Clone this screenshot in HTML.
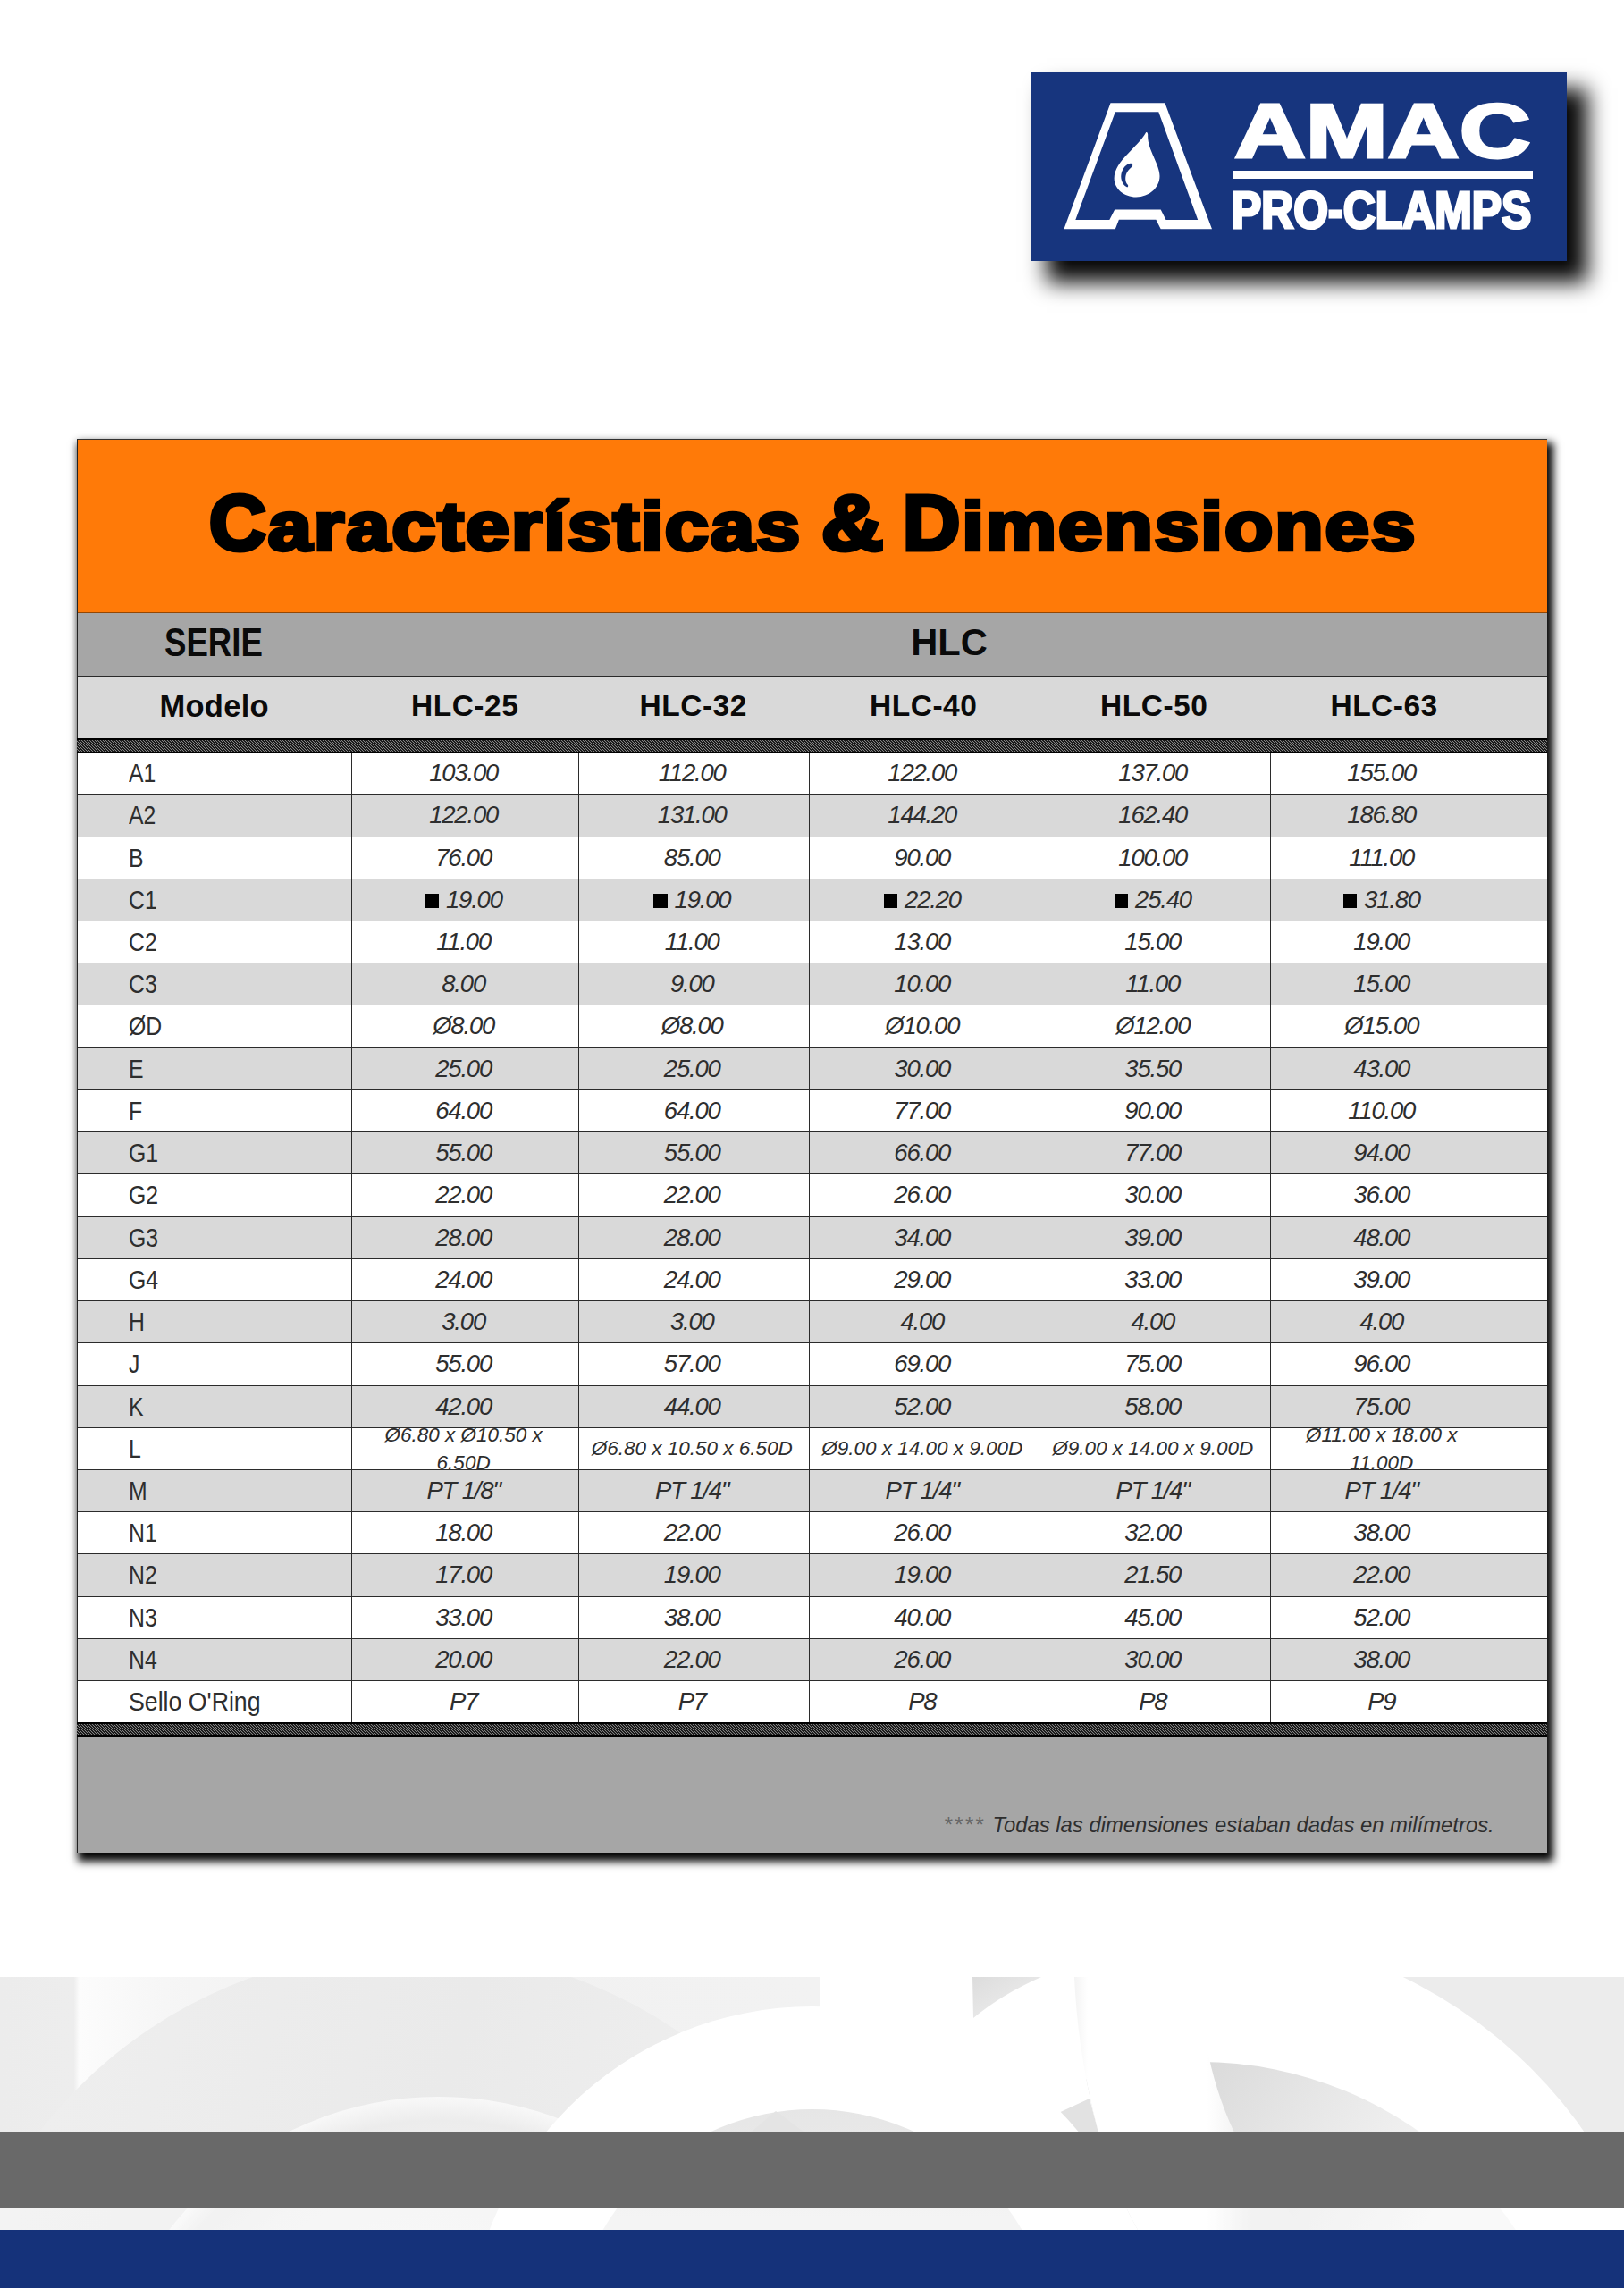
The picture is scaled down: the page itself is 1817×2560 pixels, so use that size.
<!DOCTYPE html>
<html lang="es">
<head>
<meta charset="utf-8">
<title>AMAC Pro-Clamps - Características &amp; Dimensiones HLC</title>
<style>
html,body{margin:0;padding:0;}
body{width:1817px;height:2560px;position:relative;background:#fff;overflow:hidden;font-family:"Liberation Sans",sans-serif;color:#000;}
.abs{position:absolute;}
#logo{position:absolute;left:1153.5px;top:81px;width:599px;height:211px;background:#17357e;box-shadow:20px 21px 23px 3px rgba(0,0,0,.97);}
#logo svg{position:absolute;left:0;top:0;}
#amac{position:absolute;left:227.3px;top:21.8px;font-weight:bold;font-size:86px;line-height:86px;color:#fff;white-space:nowrap;transform-origin:0 0;transform:scaleX(1.285);-webkit-text-stroke:3px #fff;}
#bar{position:absolute;left:226px;top:109.5px;width:335.5px;height:9.2px;background:#fff;}
#pro{position:absolute;left:224.3px;top:124.8px;font-weight:bold;font-size:58px;line-height:58px;color:#fff;white-space:nowrap;transform-origin:0 0;transform:scaleX(.86);-webkit-text-stroke:3.2px #fff;}
#tbl{position:absolute;left:86px;top:491px;width:1645px;height:1581.6px;background:#a6a6a6;box-shadow:4px 7px 9px 3px rgba(0,0,0,.97);}
#tbl .edge{position:absolute;left:0;top:0;right:0;bottom:0;border-left:1.3px solid #222;border-top:1.3px solid #333;pointer-events:none;}
#orange{position:absolute;left:0;top:0;width:100%;height:194.5px;background:#ff7a08;box-sizing:border-box;border-bottom:1px solid rgba(60,30,0,.55);}
.tw{position:absolute;top:50.3px;font-weight:bold;font-size:88px;line-height:88px;white-space:nowrap;color:#000;-webkit-text-stroke:5px #000;transform-origin:0 0;letter-spacing:2px;}
.tw span{display:inline-block;transform:scaleY(.868);transform-origin:0 84.65%;}
#serie{position:absolute;left:0;top:194.5px;width:100%;height:71px;background:#a6a6a6;border-bottom:1.3px solid #2a2a2a;box-sizing:border-box;}
#modelo{position:absolute;left:0;top:265.5px;width:100%;height:70px;background:#d9d9d9;}
.hd{position:absolute;font-weight:bold;white-space:nowrap;text-align:center;color:#0a0a0a;}
.band{position:absolute;left:0;width:1645px;height:17px;z-index:3;display:block;}
.row{position:absolute;left:0;width:100%;height:47.23px;box-sizing:border-box;border-bottom:1.2px solid #2b2b2b;overflow:hidden;}
.row.g{background:#d9d9d9;}
.row.w{background:#fff;}
.lab{position:absolute;left:58px;top:0;font-size:29.5px;line-height:45.4px;transform-origin:0 50%;transform:scaleX(.84);color:#2e2e2e;white-space:nowrap;}
.c{position:absolute;top:0;height:100%;box-sizing:border-box;border-left:1.2px solid #2b2b2b;text-align:center;font-style:italic;font-size:27.5px;line-height:45px;color:#2e2e2e;white-space:nowrap;padding-right:4px;letter-spacing:-1.2px;}
.c.s{font-size:22.5px;line-height:46px;letter-spacing:0;}
.c.wr{font-size:22.5px;line-height:30.4px;white-space:normal;letter-spacing:0;}
.c.wr span{display:block;position:relative;top:-6.3px;}
.sq{display:inline-block;width:15.5px;height:15.5px;background:#000;margin-right:8px;vertical-align:0px;}
#foot{position:absolute;left:0;top:1451.8px;width:100%;height:129.8px;background:#a6a6a6;}
#note{position:absolute;right:59.3px;top:1536px;font-style:italic;font-size:23.85px;line-height:30px;color:#2e2e2e;white-space:nowrap;}
#note i{font-style:italic;color:#666;margin-right:8.5px;letter-spacing:2.3px;}
#deco{position:absolute;left:0;top:2212px;}
#gband{position:absolute;left:0;top:2385.6px;width:1817px;height:84px;background:#696969;}
#nband{position:absolute;left:0;top:2494.6px;width:1817px;height:66px;background:#15327a;}
</style>
</head>
<body>
<div id="logo">
<svg width="599" height="211" viewBox="1153.5 81 599 211">
<path fill="#fff" fill-rule="evenodd" d="M1242 115.2 L1302.9 115.2 L1355.5 256.3 L1298.2 256.3 L1292.9 245.7 L1251.4 245.7 L1247.3 256.3 L1189.9 256.3 Z M1247.3 125.2 L1295.8 125.2 L1339.7 245.9 L1304 245.9 L1298.2 234.6 L1246.7 234.6 L1240.8 246.1 L1202.8 246.1 Z"/>
<path fill="#fff" d="M1281.8 148 C1278.3 155 1268.9 163.8 1261.9 171.4 C1252.5 180.7 1246.1 190.1 1246.1 199.5 C1246.1 211.2 1257.2 220.5 1270.7 220.5 C1285.3 220.5 1297 210 1297 197.1 C1297 184.2 1283 166.7 1283.7 151.5 C1283.8 149.1 1283 147.4 1281.8 148 Z"/>
<path fill="#17357e" d="M1261.9 183.3 C1256 186.6 1253.1 193.6 1253.9 199.5 C1254.6 204.1 1257.2 208.2 1260.7 209.4 C1261.9 208.8 1261.9 207.6 1261.3 206.7 C1258.6 204.1 1258.2 199.5 1259.3 195.4 C1260.5 191.3 1263.7 188.9 1266 186.6 C1267.8 184.5 1266 181.3 1261.9 183.3 Z"/>
</svg>
<div id="amac">AMAC</div>
<div id="bar"></div>
<div id="pro">PRO-CLAMPS</div>
</div>
<div id="tbl">
<svg width="0" height="0" style="position:absolute"><defs><pattern id="hatch" width="3" height="3" patternUnits="userSpaceOnUse"><rect width="3" height="3" fill="#1b1b1b"/><rect x="0" y="0" width="1" height="1" fill="#848484"/><rect x="1" y="1" width="1" height="1" fill="#848484"/><rect x="2" y="2" width="1" height="1" fill="#848484"/></pattern></defs></svg>
<div id="orange"></div>
<div class="tw" style="left:147.8px;transform:scaleX(1.003)">C<span>aracterísticas</span></div>
<div class="tw" style="left:832.8px;transform:scaleX(1.09)">&amp;</div>
<div class="tw" style="left:924px;transform:scaleX(1.01)">D<span>imensiones</span></div>
<div id="serie"><div class="hd" style="left:98px;top:8px;font-size:43.5px;line-height:50px;transform-origin:0 0;transform:scaleX(.842)">SERIE</div><div class="hd" style="left:876.3px;top:8px;width:200px;font-size:42.5px;line-height:50px;transform:scaleX(.98)">HLC</div></div>
<div id="modelo"><div class="hd" style="left:53.7px;top:13.8px;width:200px;font-size:34.5px;line-height:40px;letter-spacing:.3px">Modelo</div><div class="hd" style="left:334.15px;top:13.8px;width:200px;font-size:33.5px;line-height:40px;letter-spacing:.5px">HLC-25</div><div class="hd" style="left:589.75px;top:13.8px;width:200px;font-size:33.5px;line-height:40px;letter-spacing:.5px">HLC-32</div><div class="hd" style="left:847.25px;top:13.8px;width:200px;font-size:33.5px;line-height:40px;letter-spacing:.5px">HLC-40</div><div class="hd" style="left:1105.25px;top:13.8px;width:200px;font-size:33.5px;line-height:40px;letter-spacing:.5px">HLC-50</div><div class="hd" style="left:1362.6px;top:13.8px;width:200px;font-size:33.5px;line-height:40px;letter-spacing:.5px">HLC-63</div></div>
<svg class="band" style="top:335px" width="1645" height="17" viewBox="0 0 1645 17" shape-rendering="crispEdges"><rect width="1645" height="17" fill="#000"/><rect y="2" width="1645" height="13" fill="url(#hatch)"/></svg>
<div class="row w" style="top:351.1px"><div class="lab">A1</div><div class="c" style="left:307.3px;width:253.7px">103.00</div><div class="c" style="left:561.0px;width:257.5px">112.00</div><div class="c" style="left:818.5px;width:257.5px">122.00</div><div class="c" style="left:1076.0px;width:258.5px">137.00</div><div class="c" style="left:1334.5px;width:310.5px;padding-right:61px">155.00</div></div>
<div class="row g" style="top:398.33px"><div class="lab">A2</div><div class="c" style="left:307.3px;width:253.7px">122.00</div><div class="c" style="left:561.0px;width:257.5px">131.00</div><div class="c" style="left:818.5px;width:257.5px">144.20</div><div class="c" style="left:1076.0px;width:258.5px">162.40</div><div class="c" style="left:1334.5px;width:310.5px;padding-right:61px">186.80</div></div>
<div class="row w" style="top:445.56px"><div class="lab">B</div><div class="c" style="left:307.3px;width:253.7px">76.00</div><div class="c" style="left:561.0px;width:257.5px">85.00</div><div class="c" style="left:818.5px;width:257.5px">90.00</div><div class="c" style="left:1076.0px;width:258.5px">100.00</div><div class="c" style="left:1334.5px;width:310.5px;padding-right:61px">111.00</div></div>
<div class="row g" style="top:492.79px"><div class="lab">C1</div><div class="c" style="left:307.3px;width:253.7px"><b class="sq"></b>19.00</div><div class="c" style="left:561.0px;width:257.5px"><b class="sq"></b>19.00</div><div class="c" style="left:818.5px;width:257.5px"><b class="sq"></b>22.20</div><div class="c" style="left:1076.0px;width:258.5px"><b class="sq"></b>25.40</div><div class="c" style="left:1334.5px;width:310.5px;padding-right:61px"><b class="sq"></b>31.80</div></div>
<div class="row w" style="top:540.02px"><div class="lab">C2</div><div class="c" style="left:307.3px;width:253.7px">11.00</div><div class="c" style="left:561.0px;width:257.5px">11.00</div><div class="c" style="left:818.5px;width:257.5px">13.00</div><div class="c" style="left:1076.0px;width:258.5px">15.00</div><div class="c" style="left:1334.5px;width:310.5px;padding-right:61px">19.00</div></div>
<div class="row g" style="top:587.25px"><div class="lab">C3</div><div class="c" style="left:307.3px;width:253.7px">8.00</div><div class="c" style="left:561.0px;width:257.5px">9.00</div><div class="c" style="left:818.5px;width:257.5px">10.00</div><div class="c" style="left:1076.0px;width:258.5px">11.00</div><div class="c" style="left:1334.5px;width:310.5px;padding-right:61px">15.00</div></div>
<div class="row w" style="top:634.48px"><div class="lab">ØD</div><div class="c" style="left:307.3px;width:253.7px">Ø8.00</div><div class="c" style="left:561.0px;width:257.5px">Ø8.00</div><div class="c" style="left:818.5px;width:257.5px">Ø10.00</div><div class="c" style="left:1076.0px;width:258.5px">Ø12.00</div><div class="c" style="left:1334.5px;width:310.5px;padding-right:61px">Ø15.00</div></div>
<div class="row g" style="top:681.71px"><div class="lab">E</div><div class="c" style="left:307.3px;width:253.7px">25.00</div><div class="c" style="left:561.0px;width:257.5px">25.00</div><div class="c" style="left:818.5px;width:257.5px">30.00</div><div class="c" style="left:1076.0px;width:258.5px">35.50</div><div class="c" style="left:1334.5px;width:310.5px;padding-right:61px">43.00</div></div>
<div class="row w" style="top:728.94px"><div class="lab">F</div><div class="c" style="left:307.3px;width:253.7px">64.00</div><div class="c" style="left:561.0px;width:257.5px">64.00</div><div class="c" style="left:818.5px;width:257.5px">77.00</div><div class="c" style="left:1076.0px;width:258.5px">90.00</div><div class="c" style="left:1334.5px;width:310.5px;padding-right:61px">110.00</div></div>
<div class="row g" style="top:776.17px"><div class="lab">G1</div><div class="c" style="left:307.3px;width:253.7px">55.00</div><div class="c" style="left:561.0px;width:257.5px">55.00</div><div class="c" style="left:818.5px;width:257.5px">66.00</div><div class="c" style="left:1076.0px;width:258.5px">77.00</div><div class="c" style="left:1334.5px;width:310.5px;padding-right:61px">94.00</div></div>
<div class="row w" style="top:823.4px"><div class="lab">G2</div><div class="c" style="left:307.3px;width:253.7px">22.00</div><div class="c" style="left:561.0px;width:257.5px">22.00</div><div class="c" style="left:818.5px;width:257.5px">26.00</div><div class="c" style="left:1076.0px;width:258.5px">30.00</div><div class="c" style="left:1334.5px;width:310.5px;padding-right:61px">36.00</div></div>
<div class="row g" style="top:870.63px"><div class="lab">G3</div><div class="c" style="left:307.3px;width:253.7px">28.00</div><div class="c" style="left:561.0px;width:257.5px">28.00</div><div class="c" style="left:818.5px;width:257.5px">34.00</div><div class="c" style="left:1076.0px;width:258.5px">39.00</div><div class="c" style="left:1334.5px;width:310.5px;padding-right:61px">48.00</div></div>
<div class="row w" style="top:917.86px"><div class="lab">G4</div><div class="c" style="left:307.3px;width:253.7px">24.00</div><div class="c" style="left:561.0px;width:257.5px">24.00</div><div class="c" style="left:818.5px;width:257.5px">29.00</div><div class="c" style="left:1076.0px;width:258.5px">33.00</div><div class="c" style="left:1334.5px;width:310.5px;padding-right:61px">39.00</div></div>
<div class="row g" style="top:965.09px"><div class="lab">H</div><div class="c" style="left:307.3px;width:253.7px">3.00</div><div class="c" style="left:561.0px;width:257.5px">3.00</div><div class="c" style="left:818.5px;width:257.5px">4.00</div><div class="c" style="left:1076.0px;width:258.5px">4.00</div><div class="c" style="left:1334.5px;width:310.5px;padding-right:61px">4.00</div></div>
<div class="row w" style="top:1012.32px"><div class="lab">J</div><div class="c" style="left:307.3px;width:253.7px">55.00</div><div class="c" style="left:561.0px;width:257.5px">57.00</div><div class="c" style="left:818.5px;width:257.5px">69.00</div><div class="c" style="left:1076.0px;width:258.5px">75.00</div><div class="c" style="left:1334.5px;width:310.5px;padding-right:61px">96.00</div></div>
<div class="row g" style="top:1059.55px"><div class="lab">K</div><div class="c" style="left:307.3px;width:253.7px">42.00</div><div class="c" style="left:561.0px;width:257.5px">44.00</div><div class="c" style="left:818.5px;width:257.5px">52.00</div><div class="c" style="left:1076.0px;width:258.5px">58.00</div><div class="c" style="left:1334.5px;width:310.5px;padding-right:61px">75.00</div></div>
<div class="row w" style="top:1106.78px"><div class="lab">L</div><div class="c wr" style="left:307.3px;width:253.7px"><span>Ø6.80 x Ø10.50 x<br>6.50D</span></div><div class="c s" style="left:561.0px;width:257.5px">Ø6.80 x 10.50 x 6.50D</div><div class="c s" style="left:818.5px;width:257.5px">Ø9.00 x 14.00 x 9.00D</div><div class="c s" style="left:1076.0px;width:258.5px">Ø9.00 x 14.00 x 9.00D</div><div class="c wr" style="left:1334.5px;width:310.5px;padding-right:61px"><span>Ø11.00 x 18.00 x<br>11.00D</span></div></div>
<div class="row g" style="top:1154.01px"><div class="lab">M</div><div class="c" style="left:307.3px;width:253.7px">PT 1/8"</div><div class="c" style="left:561.0px;width:257.5px">PT 1/4"</div><div class="c" style="left:818.5px;width:257.5px">PT 1/4"</div><div class="c" style="left:1076.0px;width:258.5px">PT 1/4"</div><div class="c" style="left:1334.5px;width:310.5px;padding-right:61px">PT 1/4"</div></div>
<div class="row w" style="top:1201.24px"><div class="lab">N1</div><div class="c" style="left:307.3px;width:253.7px">18.00</div><div class="c" style="left:561.0px;width:257.5px">22.00</div><div class="c" style="left:818.5px;width:257.5px">26.00</div><div class="c" style="left:1076.0px;width:258.5px">32.00</div><div class="c" style="left:1334.5px;width:310.5px;padding-right:61px">38.00</div></div>
<div class="row g" style="top:1248.47px"><div class="lab">N2</div><div class="c" style="left:307.3px;width:253.7px">17.00</div><div class="c" style="left:561.0px;width:257.5px">19.00</div><div class="c" style="left:818.5px;width:257.5px">19.00</div><div class="c" style="left:1076.0px;width:258.5px">21.50</div><div class="c" style="left:1334.5px;width:310.5px;padding-right:61px">22.00</div></div>
<div class="row w" style="top:1295.7px"><div class="lab">N3</div><div class="c" style="left:307.3px;width:253.7px">33.00</div><div class="c" style="left:561.0px;width:257.5px">38.00</div><div class="c" style="left:818.5px;width:257.5px">40.00</div><div class="c" style="left:1076.0px;width:258.5px">45.00</div><div class="c" style="left:1334.5px;width:310.5px;padding-right:61px">52.00</div></div>
<div class="row g" style="top:1342.93px"><div class="lab">N4</div><div class="c" style="left:307.3px;width:253.7px">20.00</div><div class="c" style="left:561.0px;width:257.5px">22.00</div><div class="c" style="left:818.5px;width:257.5px">26.00</div><div class="c" style="left:1076.0px;width:258.5px">30.00</div><div class="c" style="left:1334.5px;width:310.5px;padding-right:61px">38.00</div></div>
<div class="row w" style="top:1390.16px"><div class="lab" style="transform:scaleX(.905)">Sello O'Ring</div><div class="c" style="left:307.3px;width:253.7px">P7</div><div class="c" style="left:561.0px;width:257.5px">P7</div><div class="c" style="left:818.5px;width:257.5px">P8</div><div class="c" style="left:1076.0px;width:258.5px">P8</div><div class="c" style="left:1334.5px;width:310.5px;padding-right:61px">P9</div></div>
<svg class="band" style="top:1436px;height:16px" width="1645" height="16" viewBox="0 0 1645 16" shape-rendering="crispEdges"><rect width="1645" height="16" fill="#000"/><rect y="2" width="1645" height="12" fill="url(#hatch)"/></svg>
<div id="foot"></div>
<div id="note"><i>****</i>Todas las dimensiones estaban dadas en milímetros.</div>
<div class="edge"></div>
</div>
<svg id="deco" width="1817" height="283" viewBox="0 2212 1817 283">
<defs>
<linearGradient id="gL" gradientUnits="userSpaceOnUse" x1="0" y1="0" x2="917" y2="0"><stop offset="0" stop-color="#ececec"/><stop offset=".09" stop-color="#ededed"/><stop offset=".097" stop-color="#fcfcfc"/><stop offset=".2" stop-color="#f6f6f6"/><stop offset=".4" stop-color="#f1f1f1"/><stop offset="1" stop-color="#f2f2f2"/></linearGradient>
<linearGradient id="gD" gradientUnits="userSpaceOnUse" x1="100" y1="2212" x2="900" y2="2450"><stop offset="0" stop-color="#eeeeee"/><stop offset=".5" stop-color="#eaeaea"/><stop offset="1" stop-color="#f0f0f0"/></linearGradient>
<radialGradient id="gI" gradientUnits="userSpaceOnUse" cx="491" cy="2726" r="380"><stop offset="0" stop-color="#fdfdfd"/><stop offset=".8" stop-color="#f1f1f1"/><stop offset=".93" stop-color="#ececec"/><stop offset="1" stop-color="#f8f8f8"/></radialGradient>
<linearGradient id="g1" x1="0" y1="0" x2="0" y2="1"><stop offset="0" stop-color="#e6e6e6"/><stop offset=".35" stop-color="#f4f4f4"/><stop offset="1" stop-color="#fbfbfb"/></linearGradient>
<linearGradient id="g3" gradientUnits="userSpaceOnUse" x1="1352" y1="2300" x2="1600" y2="2480"><stop offset="0" stop-color="#dadada"/><stop offset=".5" stop-color="#e9e9e9"/><stop offset="1" stop-color="#f6f6f6"/></linearGradient>
<linearGradient id="gB" gradientUnits="userSpaceOnUse" x1="1201" y1="0" x2="1400" y2="0"><stop offset="0" stop-color="#f3f3f3"/><stop offset=".08" stop-color="#ffffff"/><stop offset=".75" stop-color="#ffffff"/><stop offset="1" stop-color="#ededed"/></linearGradient>
<linearGradient id="gW" x1="0" y1="0" x2="1" y2="1"><stop offset="0" stop-color="#dcdcdc"/><stop offset="1" stop-color="#f2f2f2"/></linearGradient>
</defs>
<rect x="0" y="2212" width="917" height="283" fill="url(#gL)"/>
<circle cx="461" cy="2709" r="528" fill="url(#gD)"/>
<circle cx="491" cy="2726" r="380" fill="url(#gI)"/>
<rect x="917" y="2212" width="172" height="283" fill="#fff"/>
<rect x="1089" y="2212" width="728" height="283" fill="#ececec"/>
<circle cx="1336" cy="2691" r="533" fill="#fff"/>
<circle cx="1342" cy="2734" r="427" fill="url(#g3)"/>
<path d="M1089 2212 L1202 2212 Q1206 2300 1229 2386 Q1245 2445 1273 2495 L1089 2495 Z" fill="#fff"/>
<path d="M1088 2212 L1165 2212 Q1120 2232 1089 2258 Z" fill="url(#gW)"/>
<path d="M1180 2366 L1219 2348 L1229 2386 L1192 2386 Z" fill="#e2e2e2"/>
<path d="M1202 2212 Q1206 2300 1229 2386 Q1245 2445 1273 2495 L1460 2495 Q1410 2440 1381 2386 Q1345 2310 1342 2212 Z" fill="url(#gB)"/>
<circle cx="909" cy="2631" r="386" fill="#fff"/>
<circle cx="909" cy="2631" r="271" fill="url(#g1)"/>
<path d="M840 2386 L868 2362 L900 2386 Z" fill="#e4e4e4"/>
<rect x="0" y="2469" width="1817" height="27" fill="#fff" opacity=".3"/>
</svg>
<div id="gband"></div>
<div id="nband"></div>
</body>
</html>
